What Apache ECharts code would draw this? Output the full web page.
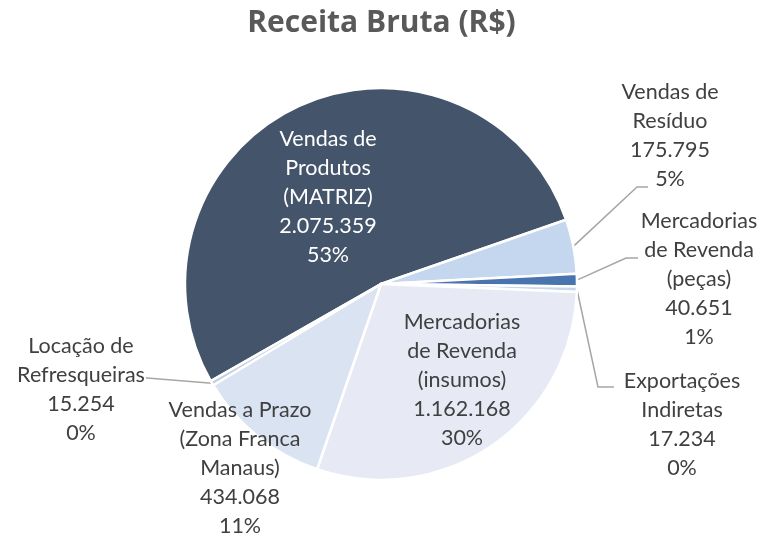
<!DOCTYPE html>
<html>
<head>
<meta charset="utf-8">
<script src="https://cdn.jsdelivr.net/npm/echarts@6/dist/echarts.min.js"></script>
<style>
html,body{margin:0;padding:0;background:#fff;}
#chart{width:763px;height:537px;}
</style>
</head>
<body>
<div id="chart"></div>
<script>
const titleText = 'Receita Bruta (R$)';
const categories = [
  'Vendas de\nProdutos\n(MATRIZ)',
  'Vendas de\nResíduo',
  'Mercadorias\nde Revenda\n(peças)',
  'Exportações\nIndiretas',
  'Mercadorias\nde Revenda\n(insumos)',
  'Vendas a Prazo\n(Zona Franca\nManaus)',
  'Locação de\nRefresqueiras'
];
const values = [2075359, 175795, 40651, 17234, 1162168, 434068, 15254];
const colors = ['#44546A', '#C5D7EE', '#4A74AE', '#C9D6EC', '#E7EAF5', '#DAE3F1', '#C3CEDF'];
const labelInside = [true, false, false, false, true, true, false];
const labelColors = ['#FFFFFF', '#404040', '#404040', '#404040', '#404040', '#404040', '#404040'];
// text block centres
const labelPos = [
  [328, 197], [670, 136], [699, 279], [682, 425], [462, 380], [240, 468], [81, 390]
];
// leader line end points (where the line meets the text) and side
const leaderEnd = [null, [648, 187, 'left'], [638, 258, 'left'], [614, 387, 'left'], null, null, [146, 378, 'right']];
const leaderLen2 = [0, 11, 12, 16, 0, 0, 1];

function fmt(v) {
  return String(v).replace(/\B(?=(\d{3})+(?!\d))/g, '.');
}

const data = values.map((v, i) => ({
  value: v,
  name: categories[i],
  itemStyle: { color: colors[i] },
  label: { position: labelInside[i] ? 'inside' : 'outside', color: labelColors[i] },
  labelLine: { show: false }
}));

const guideData = values.map((v, i) => ({
  value: v,
  name: categories[i],
  label: { show: !labelInside[i] },
  labelLine: { show: !labelInside[i], length2: leaderLen2[i] }
}));

const common = {
  type: 'pie',
  center: [381, 284],
  radius: 196,
  startAngle: 209.7,
  clockwise: true,
  percentPrecision: 0,
  avoidLabelOverlap: false
};

const chart = echarts.init(document.getElementById('chart'), null, { renderer: 'canvas' });
chart.setOption({
  backgroundColor: '#FFFFFF',
  animation: false,
  title: {
    text: titleText,
    left: 'center',
    top: 3,
    textStyle: { fontFamily: 'Open Sans', fontWeight: 'bold', fontSize: 30, color: '#595959' }
  },
  series: [Object.assign({}, common, {
    itemStyle: { borderColor: '#FFFFFF', borderWidth: 2.5 },
    label: {
      show: true,
      fontFamily: 'Lato',
      fontSize: 21.5,
      lineHeight: 29,
      align: 'center',
      formatter: p => p.name + '\n' + fmt(p.value) + '\n' + p.percent + '%'
    },
    labelLayout: function (params) {
      const p = labelPos[params.dataIndex];
      return { x: p[0], y: p[1], align: 'center', verticalAlign: 'middle' };
    },
    data: data
  }), Object.assign({}, common, {
    silent: true,
    itemStyle: { color: 'rgba(0,0,0,0)', borderWidth: 0 },
    emphasis: { disabled: true },
    label: {
      position: 'outside',
      formatter: '{s| }',
      rich: { s: { width: 100, height: 2, lineHeight: 2, fontSize: 1 } }
    },
    labelLine: {
      lineStyle: { color: '#A6A6A6', width: 1.5 },
      length: 10,
      minTurnAngle: 0
    },
    labelLayout: function (params) {
      const e = leaderEnd[params.dataIndex];
      if (!e) return {};
      return { x: e[0], y: e[1], align: e[2], verticalAlign: 'middle' };
    },
    data: guideData
  })]
});
</script>
</body>
</html>
